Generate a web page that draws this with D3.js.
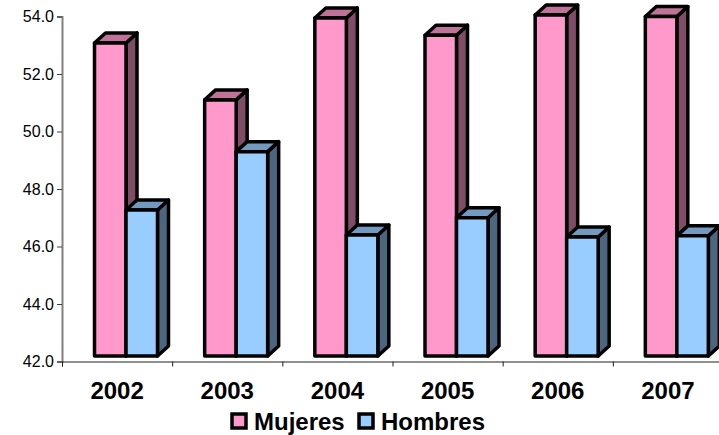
<!DOCTYPE html>
<html>
<head>
<meta charset="utf-8">
<script src="https://cdn.jsdelivr.net/npm/d3@7"></script>
<style>
  html, body { margin: 0; padding: 0; background: #fff; }
  svg { display: block; }
  text { font-family: "Liberation Sans", Arial, sans-serif; fill: #000; }
</style>
</head>
<body>
<svg id="chart" width="719" height="435"></svg>
<script>
var years = ["2002", "2003", "2004", "2005", "2006", "2007"];
var seriesNames = ["Mujeres", "Hombres"];
var mujeres = [53.08, 51.1, 53.95, 53.35, 54.05, 54.0];
var hombres = [47.27, 49.3, 46.4, 47.0, 46.33, 46.37];
var yTicks = [42, 44, 46, 48, 50, 52, 54];

var svg = d3.select("#chart")
  , left = 62
  , top_ = 16.5
  , bottom = 361.5
  , right = 723
  , dx = 11      // 3d depth
  , dy = 10
  , lift = 5.5   // floor of the bars sits above the axis
  , colors = {
        Mujeres: { front: "#ff99cc", side: "#804d66", top: "#bf7399" }
      , Hombres: { front: "#99ccff", side: "#4d6680", top: "#7399bf" }
    }
;

var y = d3.scaleLinear().domain([42, 54]).range([bottom, top_]);
var x0 = d3.scaleBand().domain(years).range([left, right]);
var x1 = d3.scaleBand().domain(seriesNames).range([32.5, 95.5]);

// axes
var yAxis = d3.axisLeft(y).tickValues(yTicks).tickSize(5).tickPadding(3).tickFormat(d3.format(".1f"));
var gy = svg.append("g").attr("transform", "translate(" + left + ",0)").call(yAxis);
gy.select(".domain").attr("stroke", "#808080").attr("stroke-width", 2);
gy.selectAll(".tick line").attr("stroke", "#404040");
gy.selectAll("text").style("font-size", "16px").attr("fill", "#111");

var edges = d3.scaleLinear().domain([0, years.length]).range([left, right]);
var gt = svg.append("g").attr("transform", "translate(0," + bottom + ")")
    .call(d3.axisBottom(edges).tickValues(d3.range(0, years.length + 1)).tickSize(5).tickFormat(""));
gt.select(".domain").attr("stroke", "#202020");
gt.selectAll(".tick line").attr("stroke", "#202020");

var gx = svg.append("g").attr("transform", "translate(0," + bottom + ")")
    .call(d3.axisBottom(x0).tickSize(0).tickPadding(20));
gx.select(".domain").remove();
gx.selectAll("text").style("font-size", "24px").style("font-weight", "bold");

// bars
function poly(pts) { return pts.map(function(p) { return p.join(","); }).join(" "); }

function drawBar(g, name, year, value) {
    var x = x0(year) + x1(name)
      , w = x1.bandwidth()
      , yt = y(value)
      , yb = bottom - lift
      , c = colors[name]
    ;
    var faces = [
        { fill: c.side, pts: [[x + w, yt], [x + w + dx, yt - dy], [x + w + dx, yb - dy], [x + w, yb]] }
      , { fill: c.top, pts: [[x, yt], [x + dx, yt - dy], [x + w + dx, yt - dy], [x + w, yt]] }
      , { fill: c.front, pts: [[x, yt], [x + w, yt], [x + w, yb], [x, yb]] }
    ];
    g.selectAll("polygon.n" + name).data(faces).enter().append("polygon")
        .attr("points", function(d) { return poly(d.pts); })
        .attr("fill", function(d) { return d.fill; })
        .attr("stroke", "#000")
        .attr("stroke-width", 3.5)
        .attr("stroke-linejoin", "round");
}

years.forEach(function(yr, i) {
    var g = svg.append("g").attr("class", "year");
    drawBar(g, "Mujeres", yr, mujeres[i]);
    drawBar(g, "Hombres", yr, hombres[i]);
});

// legend
var legendX = d3.scaleOrdinal().domain(seriesNames).range([232, 359]);
var lg = svg.append("g").selectAll("g").data(seriesNames).enter().append("g")
    .attr("transform", function(d) { return "translate(" + legendX(d) + ",414)"; });
lg.append("rect").attr("width", 14).attr("height", 14)
    .attr("fill", function(d) { return colors[d].front; })
    .attr("stroke", "#000").attr("stroke-width", 3.5);
lg.append("text").attr("x", 22).attr("y", 16)
    .style("font-size", "24px").style("font-weight", "bold")
    .text(function(d) { return d; });
</script>
</body>
</html>
